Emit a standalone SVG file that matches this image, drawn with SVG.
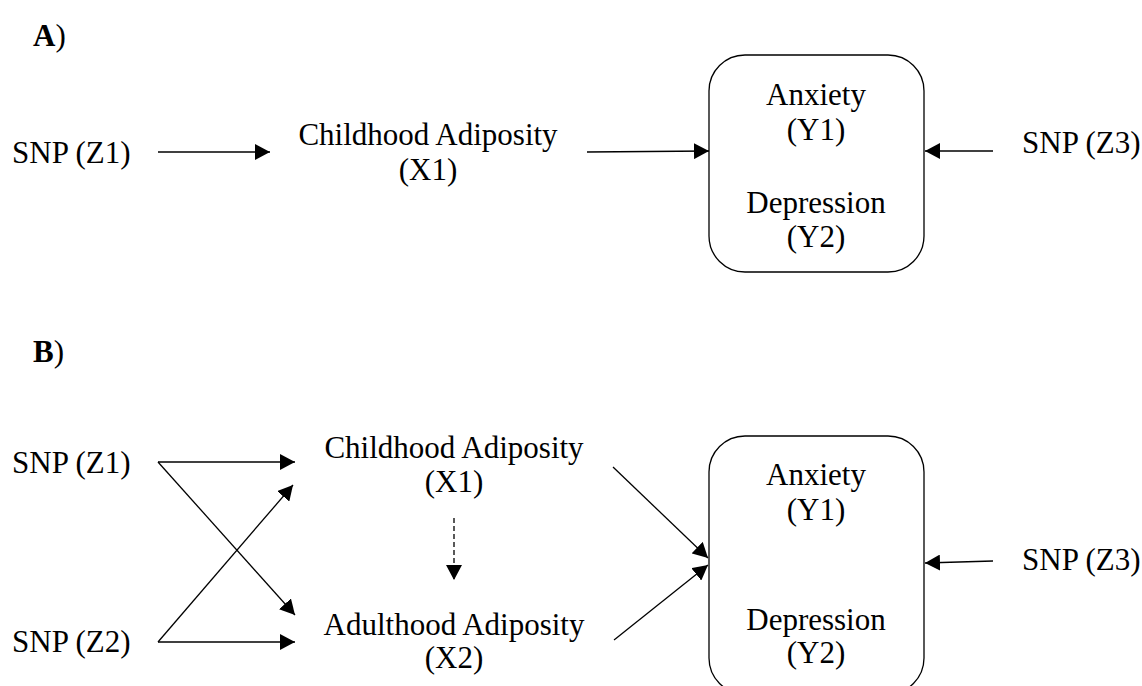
<svg xmlns="http://www.w3.org/2000/svg" width="1142" height="686" viewBox="0 0 1142 686">
<style>
text{font-family:"Liberation Serif","Times New Roman",serif;font-size:31px;fill:#000}
.c{text-anchor:middle}
.b{font-weight:bold}
.ln{stroke:#000;stroke-width:1.3;fill:none}
.dash{stroke-dasharray:5 3}
.box{fill:#fff;stroke:#000;stroke-width:1.3}
</style>
<defs>
<marker id="ah" markerUnits="userSpaceOnUse" markerWidth="16" markerHeight="16" refX="15" refY="8" orient="auto" viewBox="0 0 16 16">
<path d="M0,0 L15,8 L0,16 z" fill="#000"/>
</marker>
</defs>
<rect width="1142" height="686" fill="#fff"/>

<g id="labelA"><text x="33" y="46"><tspan class="b">A</tspan>)</text></g>
<g id="labelB"><text x="33" y="362"><tspan class="b">B</tspan>)</text></g>

<!-- Panel A nodes -->
<g id="a_z1"><text x="12" y="163">SNP (Z1)</text></g>
<g id="a_x1"><text class="c" x="428" y="145">Childhood Adiposity</text><text class="c" x="428" y="180">(X1)</text></g>
<g id="a_y"><rect class="box" x="709" y="55" width="215" height="217" rx="36" ry="36"/>
<text class="c" x="816" y="105">Anxiety</text><text class="c" x="816" y="140">(Y1)</text>
<text class="c" x="816" y="213">Depression</text><text class="c" x="816" y="247">(Y2)</text></g>
<g id="a_z3"><text x="1022" y="153">SNP (Z3)</text></g>

<!-- Panel B nodes -->
<g id="b_z1"><text x="12" y="473">SNP (Z1)</text></g>
<g id="b_z2"><text x="12" y="652">SNP (Z2)</text></g>
<g id="b_x1"><text class="c" x="454" y="458">Childhood Adiposity</text><text class="c" x="454" y="492">(X1)</text></g>
<g id="b_x2"><text class="c" x="454" y="635">Adulthood Adiposity</text><text class="c" x="454" y="668">(X2)</text></g>
<g id="b_y"><rect class="box" x="709" y="436" width="215" height="258" rx="36" ry="36"/>
<text class="c" x="816" y="485">Anxiety</text><text class="c" x="816" y="520">(Y1)</text>
<text class="c" x="816" y="630">Depression</text><text class="c" x="816" y="663">(Y2)</text></g>
<g id="b_z3"><text x="1022" y="570">SNP (Z3)</text></g>

<g id="connectors">
<line class="ln" x1="158" y1="152" x2="270" y2="152" marker-end="url(#ah)"/>
<line class="ln" x1="587" y1="152" x2="709" y2="151" marker-end="url(#ah)"/>
<line class="ln" x1="993" y1="151" x2="925" y2="151" marker-end="url(#ah)"/>

<line class="ln" x1="158" y1="462" x2="295" y2="462" marker-end="url(#ah)"/>
<line class="ln" x1="158" y1="462" x2="295" y2="615" marker-end="url(#ah)"/>
<line class="ln" x1="158" y1="642" x2="295" y2="642" marker-end="url(#ah)"/>
<line class="ln" x1="158" y1="642" x2="293" y2="485" marker-end="url(#ah)"/>
<line class="ln dash" x1="454" y1="518" x2="454" y2="580" marker-end="url(#ah)"/>
<line class="ln" x1="613" y1="467" x2="708" y2="558" marker-end="url(#ah)"/>
<line class="ln" x1="614" y1="640" x2="708" y2="565" marker-end="url(#ah)"/>
<line class="ln" x1="993" y1="561" x2="925" y2="563" marker-end="url(#ah)"/>
</g>
</svg>
